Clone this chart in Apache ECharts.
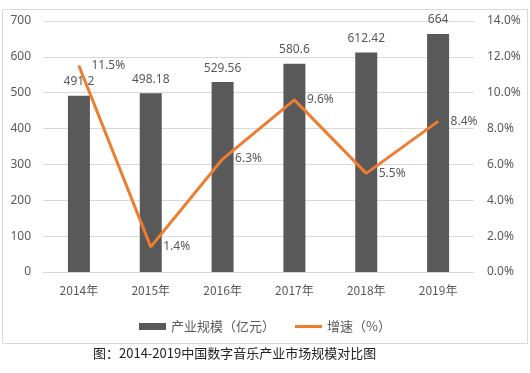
<!DOCTYPE html>
<html><head><meta charset="utf-8">
<script src="https://cdn.jsdelivr.net/npm/echarts@6/dist/echarts.min.js"></script>
<style>html,body{margin:0;padding:0;background:#fff;}#c{width:530px;height:373px;}</style>
</head><body><div id="c"></div>
<script>
const categories = ['2014年','2015年','2016年','2017年','2018年','2019年'];
const scaleValues = [491.2, 498.18, 529.56, 580.6, 612.42, 664];
const growthValues = [11.5, 1.4, 6.3, 9.6, 5.5, 8.4];
const leftTicks = {min:0, max:700, interval:100};
const rightTicks = {min:0, max:14, interval:2};
const titleText = '图：2014-2019中国数字音乐产业市场规模对比图';

const chart = echarts.init(document.getElementById('c'), null, {renderer:'canvas'});
const txt = '#595959';
const ff = '"Noto Sans", "Noto Sans CJK SC", sans-serif';
chart.setOption({
  animation:false,
  textStyle:{fontFamily:ff},
  graphic:[
    {type:'rect', shape:{x:2.5,y:9.5,width:525,height:334}, style:{fill:'none', stroke:'#d9d9d9', lineWidth:1}},
    {type:'text', left:93, top:347, style:{text:titleText, fill:'#222', font:'13px "Noto Sans CJK SC", serif'}}
  ],
  grid:{left:43, right:56, top:21, bottom:101, containLabel:false},
  legend:{
    top:315, left:'center', itemGap:20, itemWidth:27, itemHeight:7,
    textStyle:{color:txt, fontSize:13, fontFamily:'"Noto Sans CJK SC", sans-serif'},
    data:[{name:'产业规模（亿元）', icon:'rect'}, {name:'增速（%）', icon:'path://M0,0 L26,0 L26,3 L0,3 Z'}]
  },
  xAxis:{type:'category', data:categories,
    axisLine:{lineStyle:{color:'#d9d9d9'}}, axisTick:{show:false},
    axisLabel:{color:txt, fontSize:12, margin:12, fontFamily:'"Noto Sans CJK SC", sans-serif'}},
  yAxis:[
    {type:'value', min:leftTicks.min, max:leftTicks.max, interval:leftTicks.interval,
     axisLine:{show:false}, axisTick:{show:false},
     splitLine:{lineStyle:{color:'#d9d9d9'}},
     axisLabel:{color:txt, fontSize:12, margin:12}},
    {type:'value', min:rightTicks.min, max:rightTicks.max, interval:rightTicks.interval,
     axisLine:{show:false}, axisTick:{show:false}, splitLine:{show:false},
     axisLabel:{color:txt, fontSize:12, margin:13, formatter:v=>v.toFixed(1)+'%'}}
  ],
  series:[
    {name:'产业规模（亿元）', type:'bar', data:scaleValues, barWidth:22, z:2,
     itemStyle:{color:'#595959'},
     label:{show:true, position:'top', color:txt, fontSize:12, distance:8}},
    {name:'增速（%）', type:'line', yAxisIndex:1, data:growthValues, z:5, zlevel:1,
     symbol:'circle', symbolSize:1, showSymbol:true,
     lineStyle:{color:'#ED7D31', width:3}, itemStyle:{color:'#ED7D31'},
     label:{show:true, position:'right', color:txt, fontSize:12, distance:12, formatter:p=>p.value.toFixed(1)+'%'}}
  ]
});
</script></body></html>
